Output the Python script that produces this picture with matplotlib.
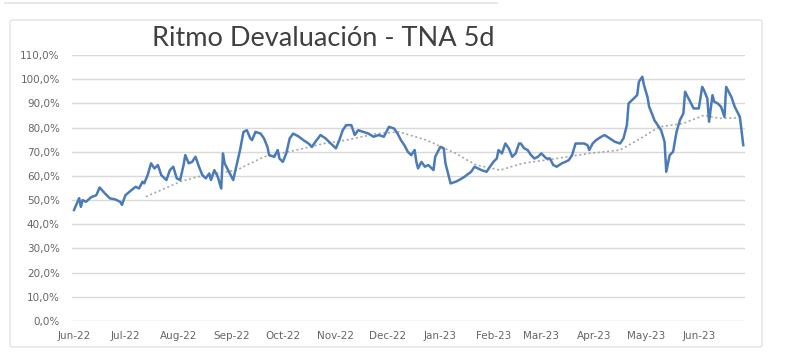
"""
Ritmo Devaluacion - TNA 5d, redrawn from the dashboard screenshot.
"""
import pandas as pd
import matplotlib
matplotlib.use("Agg")
import matplotlib.pyplot as plt
import matplotlib.dates as mdates
from matplotlib.patches import FancyBboxPatch
from matplotlib.lines import Line2D
from matplotlib.ticker import FuncFormatter, MultipleLocator

# daily TNA 5d rate (in %)
tna_dates = [
    "2022-06-01", "2022-06-04", "2022-06-05", "2022-06-06", "2022-06-08", "2022-06-11",
    "2022-06-14", "2022-06-16", "2022-06-19", "2022-06-22", "2022-06-25", "2022-06-28",
    "2022-06-29",
    "2022-07-01", "2022-07-04", "2022-07-07", "2022-07-09", "2022-07-11", "2022-07-12",
    "2022-07-14", "2022-07-16", "2022-07-18", "2022-07-20", "2022-07-22", "2022-07-25",
    "2022-07-27", "2022-07-29", "2022-07-31",
    "2022-08-02", "2022-08-04", "2022-08-05", "2022-08-07", "2022-08-09", "2022-08-11",
    "2022-08-13", "2022-08-15", "2022-08-17", "2022-08-19", "2022-08-20", "2022-08-22",
    "2022-08-24", "2022-08-26", "2022-08-27", "2022-08-28", "2022-08-30",
    "2022-09-01", "2022-09-02", "2022-09-04", "2022-09-06", "2022-09-08", "2022-09-10",
    "2022-09-12", "2022-09-13", "2022-09-15", "2022-09-18", "2022-09-20", "2022-09-22",
    "2022-09-23", "2022-09-26", "2022-09-28", "2022-09-29",
    "2022-10-01", "2022-10-03", "2022-10-05", "2022-10-07", "2022-10-10", "2022-10-13",
    "2022-10-16", "2022-10-18", "2022-10-20", "2022-10-23", "2022-10-26", "2022-10-29",
    "2022-11-01", "2022-11-03", "2022-11-05", "2022-11-07", "2022-11-10", "2022-11-12",
    "2022-11-14", "2022-11-17", "2022-11-20", "2022-11-23", "2022-11-26", "2022-11-29",
    "2022-12-02", "2022-12-05", "2022-12-07", "2022-12-09", "2022-12-11", "2022-12-13",
    "2022-12-15", "2022-12-17", "2022-12-18", "2022-12-19", "2022-12-21", "2022-12-23",
    "2022-12-25", "2022-12-28", "2022-12-29",
    "2023-01-01", "2023-01-03", "2023-01-04", "2023-01-06", "2023-01-07", "2023-01-10",
    "2023-01-12", "2023-01-15", "2023-01-19", "2023-01-21", "2023-01-23", "2023-01-25",
    "2023-01-28", "2023-01-30",
    "2023-02-01", "2023-02-03", "2023-02-04", "2023-02-06", "2023-02-08", "2023-02-10",
    "2023-02-12", "2023-02-14", "2023-02-16", "2023-02-17", "2023-02-19", "2023-02-21",
    "2023-02-23", "2023-02-25", "2023-02-27",
    "2023-03-01", "2023-03-03", "2023-03-04", "2023-03-06", "2023-03-08", "2023-03-10",
    "2023-03-13", "2023-03-15", "2023-03-17", "2023-03-19", "2023-03-21", "2023-03-23",
    "2023-03-26", "2023-03-28", "2023-03-29", "2023-03-31",
    "2023-04-02", "2023-04-05", "2023-04-07", "2023-04-10", "2023-04-13", "2023-04-16",
    "2023-04-18", "2023-04-20", "2023-04-21", "2023-04-24", "2023-04-26", "2023-04-27",
    "2023-04-29", "2023-04-30",
    "2023-05-02", "2023-05-03", "2023-05-05", "2023-05-06", "2023-05-08", "2023-05-10",
    "2023-05-12", "2023-05-13", "2023-05-15", "2023-05-17", "2023-05-19", "2023-05-21",
    "2023-05-23", "2023-05-24", "2023-05-27", "2023-05-29",
    "2023-06-01", "2023-06-03", "2023-06-04", "2023-06-06", "2023-06-07", "2023-06-09",
    "2023-06-10", "2023-06-12", "2023-06-14", "2023-06-16", "2023-06-17", "2023-06-20",
    "2023-06-22", "2023-06-25", "2023-06-27",
]
tna_vals = [
    45.9, 50.8, 47.2, 50.0, 49.3, 51.2, 52.0, 55.2, 52.8, 50.7, 50.3, 49.3,
    48.0,
    52.0, 53.8, 55.5, 54.8, 57.6, 56.9, 60.3, 65.2, 63.1, 64.5, 60.3, 58.3,
    62.4, 63.8, 59.0,
    58.3, 64.5, 68.6, 65.2, 65.8, 67.9, 63.8, 60.3, 59.0, 61.0, 58.3, 62.4,
    59.6, 54.8, 69.3, 65.2, 62.4,
    59.6, 58.3, 64.5, 70.7, 78.2, 78.9, 75.5, 74.8, 78.2, 77.5, 75.5, 72.0,
    68.6, 67.9, 70.7, 67.2,
    65.8, 69.3, 75.5, 77.5, 76.4, 74.8, 73.4, 72.0, 74.1, 76.9, 75.5, 73.4,
    71.4, 74.8, 78.9, 81.0, 81.0, 76.9, 78.9, 78.2, 77.5, 76.2, 76.9, 76.2,
    80.3, 79.6, 77.5, 74.8, 72.7, 70.0, 68.6, 70.7, 65.8, 63.1, 65.8, 63.8,
    64.5, 62.4, 67.9,
    72.0, 71.4, 65.2, 59.6, 56.9, 57.6, 58.3, 59.6, 61.7, 63.8, 63.1, 62.4,
    61.7, 63.8,
    65.8, 67.2, 70.7, 69.3, 73.4, 71.4, 67.9, 69.3, 73.4, 73.4, 71.4, 70.7,
    68.6, 67.2, 67.9,
    69.3, 67.9, 67.2, 67.2, 64.5, 63.8, 65.2, 65.8, 66.5, 68.6, 73.4, 73.4,
    73.4, 72.7, 70.7, 73.4,
    74.8, 76.2, 76.9, 75.5, 74.1, 73.4, 75.5, 81.0, 90.0, 92.0, 93.4, 98.9,
    101.0, 97.5,
    92.7, 88.6, 85.1, 83.1, 81.0, 78.9, 74.1, 61.7, 68.6, 70.0, 78.2, 83.1,
    85.8, 94.8, 90.7, 87.9,
    87.9, 96.8, 95.5, 92.0, 82.4, 93.4, 90.7, 90.0, 88.6, 84.4, 96.8, 92.7,
    88.6, 84.4, 72.7,
]

# dotted moving-average line
trend_dates = [
    "2022-07-13", "2022-08-02", "2022-08-12", "2022-09-04", "2022-09-20", "2022-10-09",
    "2022-10-25", "2022-11-07", "2022-11-25", "2022-12-08", "2022-12-24", "2023-01-11",
    "2023-01-16", "2023-01-22", "2023-02-05", "2023-02-18", "2023-03-10", "2023-03-29",
    "2023-04-16", "2023-04-28", "2023-05-09", "2023-05-23", "2023-06-04", "2023-06-13",
    "2023-06-25",
]
trend_vals = [
    51.4, 57.6, 59.6, 62.4, 67.9, 70.7, 73.4, 74.8, 77.5, 78.2, 74.8, 69.0,
    66.8, 64.5, 62.4, 65.2, 67.2, 69.3, 70.7, 75.5, 80.3, 81.7, 85.1, 83.8,
    84.0,
]

title = "Ritmo Devaluación - TNA 5d"

# MAIN CODE
if __name__ == "__main__":

    W, H = 800, 353
    fig = plt.figure(figsize=(W / 100, H / 100), dpi=100)
    fig.patch.set_facecolor("white")

    # card outlines of the dashboard
    card = FancyBboxPatch(
        (10 / W, 1 - 347 / H), 752 / W, 327 / H,
        boxstyle="round,pad=0,rounding_size=0.004",
        transform=fig.transFigure, facecolor="none",
        edgecolor="#e3e3e3", linewidth=1.0, zorder=-1)
    fig.patches.append(card)
    fig.lines.append(Line2D([5 / W, 497 / W], [1 - 3 / H, 1 - 3 / H],
                            transform=fig.transFigure, color="#e3e3e3", lw=1.2))

    # plot area
    left, right = 72.3, 745
    bottom, top = 321, 55
    ax = fig.add_axes((left / W, 1 - bottom / H, (right - left) / W, (bottom - top) / H))
    ax.set_facecolor("none")

    x = pd.to_datetime(tna_dates)
    y = [v / 100 for v in tna_vals]
    xt = pd.to_datetime(trend_dates)
    yt = [v / 100 for v in trend_vals]

    ax.plot(xt, yt, color="#a6a6a6", lw=1.2, ls=(0, (1.2, 1.6)), zorder=2)
    ax.plot(x, y, color="#4a7bb7", lw=1.8, zorder=3, solid_joinstyle="round")

    ax.set_ylim(0, 1.1)
    ax.set_xlim(pd.Timestamp("2022-05-31"), pd.Timestamp("2023-06-28"))
    ax.yaxis.set_major_locator(MultipleLocator(0.1))
    ax.yaxis.set_major_formatter(
        FuncFormatter(lambda v, p: "{0:.1f}%".format(v * 100).replace(".", ",")))
    ax.xaxis.set_major_locator(mdates.MonthLocator())
    ax.xaxis.set_major_formatter(mdates.DateFormatter("%b-%y"))

    ax.grid(axis="y", color="#d9d9d9", lw=1.0)
    ax.set_axisbelow(True)
    for s in ax.spines.values():
        s.set_visible(False)
    ax.tick_params(axis="both", length=0, labelsize=7.5, colors="#666666")
    ax.tick_params(axis="y", pad=9)
    ax.tick_params(axis="x", pad=7)

    fig.text(323 / W, 1 - 39 / H, title, ha="center", va="center",
             fontsize=19.5, color="#404040", family="Lato")

    plt.savefig("out.png", dpi=100)
    print("Exported out.png")
